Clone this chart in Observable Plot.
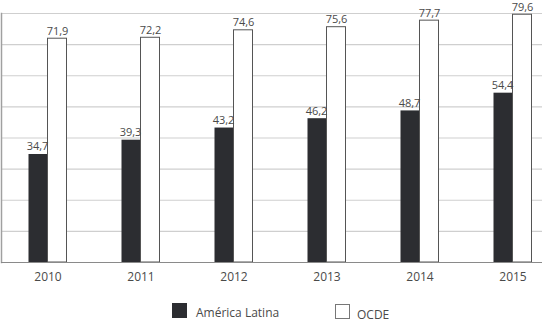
<!DOCTYPE html>
<html>
<head>
<meta charset="utf-8">
<script src="https://cdn.jsdelivr.net/npm/d3@7"></script>
<script src="https://cdn.jsdelivr.net/npm/@observablehq/plot@0.6"></script>
<style>
  html, body { margin: 0; padding: 0; background: #fff; }
  #chart { width: 542px; font-family: "Open Sans", sans-serif; }
  #legend { position: relative; width: 542px; height: 33px; font-family: "Open Sans", sans-serif; font-size: 12px; color: #4a4a4a; }
  #legend .sw { position: absolute; width: 15px; height: 15px; box-sizing: border-box; }
  #legend .lb { position: absolute; line-height: 15px; white-space: nowrap; }
</style>
</head>
<body>
<div id="chart"></div>
<div id="legend"></div>
<script>
// Years and the two series (values as printed above the bars)
const years = ["2010", "2011", "2012", "2013", "2014", "2015"];
const americaLatina = [34.7, 39.3, 43.2, 46.2, 48.7, 54.4];
const ocde = [71.9, 72.2, 74.6, 75.6, 77.7, 79.6];
const seriesNames = ["América Latina", "OCDE"];
const yTicks = [10, 20, 30, 40, 50, 60, 70, 80];

const fmt = v => v.toFixed(1).replace(".", ",");

const dataAL = years.map((year, i) => ({year, value: americaLatina[i]}));
const dataOCDE = years.map((year, i) => ({year, value: ocde[i]}));

const chart = Plot.plot({
  width: 542,
  height: 290,
  marginTop: 13,
  marginBottom: 28,
  marginLeft: 1,
  marginRight: 0,
  style: {fontFamily: "Open Sans, sans-serif", background: "#fff", overflow: "visible"},
  x: {type: "band", domain: years, range: [0.5, 558.5], padding: 0, label: null},
  y: {domain: [0, 80], label: null, axis: null},
  marks: [
    Plot.ruleY(yTicks, {stroke: "#cfcfcf", strokeWidth: 1.2}),
    Plot.frame({anchor: "left", stroke: "#a0a0a0", strokeWidth: 1.5}),
    // América Latina: left half of each group
    Plot.barY(dataAL, {x: "year", y: "value", fill: "#2c2d31", insetLeft: 27.5, insetRight: 46.5}),
    // OCDE: right half, outlined white bar
    Plot.barY(dataOCDE, {x: "year", y: "value", fill: "#fff", stroke: "#555", strokeWidth: 1, insetLeft: 46.5, insetRight: 27.5}),
    Plot.ruleY([0], {stroke: "#8a8a8a", strokeWidth: 1.2}),
    Plot.text(dataAL, {x: "year", y: "value", text: d => fmt(d.value), dx: -10.5, dy: -4, lineAnchor: "bottom", fontSize: 11, fill: "#4a4a4a"}),
    Plot.text(dataOCDE, {x: "year", y: "value", text: d => fmt(d.value), dx: 9.5, dy: -4, lineAnchor: "bottom", fontSize: 11, fill: "#4a4a4a"}),
    Plot.axisX({tickSize: 0, tickPadding: 10, fontSize: 12, color: "#4a4a4a", label: null})
  ]
});
document.getElementById("chart").append(chart);

// Legend below the plot
const legend = document.getElementById("legend");
const legendItems = [
  {name: seriesNames[0], swatchLeft: 172, swatchTop: 13, textLeft: 196, textTop: 15, fill: "#2c2d31", border: "none"},
  {name: seriesNames[1], swatchLeft: 335, swatchTop: 14, textLeft: 357, textTop: 17, fill: "#fff", border: "1px solid #777"}
];
for (const item of legendItems) {
  const sw = document.createElement("div");
  sw.className = "sw";
  sw.style.left = item.swatchLeft + "px";
  sw.style.top = item.swatchTop + "px";
  sw.style.background = item.fill;
  sw.style.border = item.border;
  legend.append(sw);
  const lb = document.createElement("div");
  lb.className = "lb";
  lb.style.left = item.textLeft + "px";
  lb.style.top = item.textTop + "px";
  lb.textContent = item.name;
  legend.append(lb);
}
</script>
</body>
</html>
